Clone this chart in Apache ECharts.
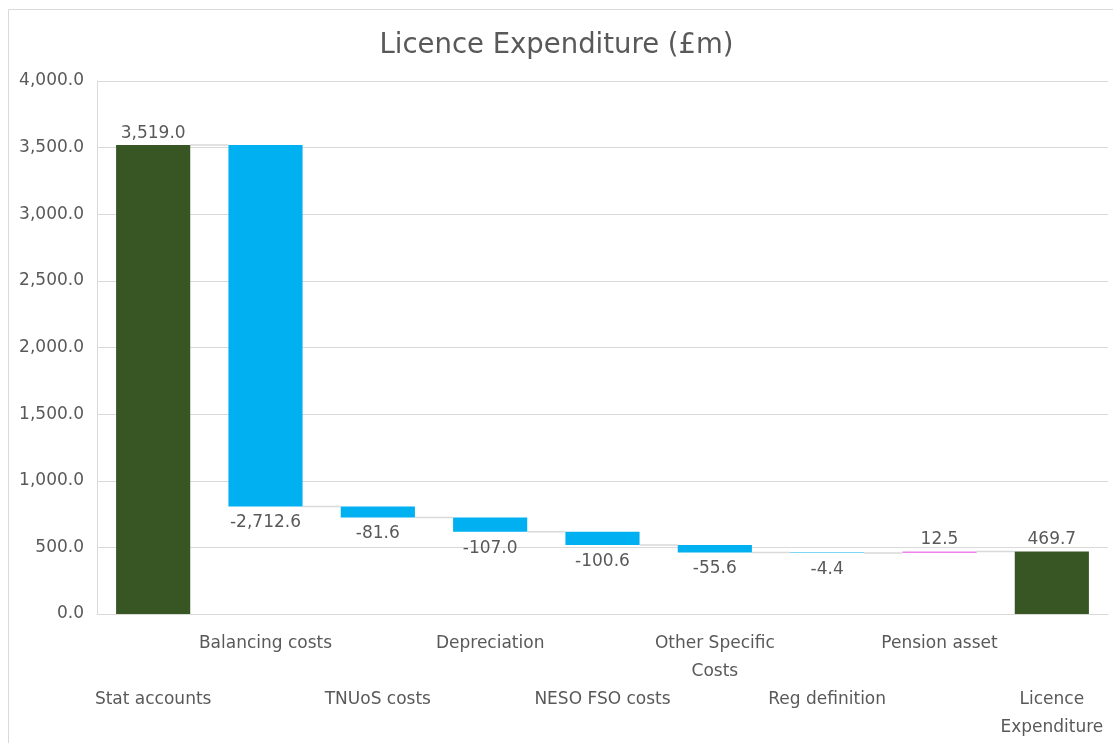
<!DOCTYPE html>
<html><head><meta charset="utf-8">
<script src="https://cdn.jsdelivr.net/npm/echarts@6/dist/echarts.min.js"></script>
<style>html,body{margin:0;padding:0;background:#fff}#c{width:1113px;height:743px}</style>
</head><body><div id="c"></div>
<script>
const categories = ['Stat accounts','Balancing costs','TNUoS costs','Depreciation','NESO FSO costs','Other Specific\nCosts','Reg definition','Pension asset','Licence\nExpenditure'];
const values = [3519.0, -2712.6, -81.6, -107.0, -100.6, -55.6, -4.4, 12.5, 469.7];
const isTotal = [true, false, false, false, false, false, false, false, true];
const yTicks = {min: 0, max: 4000, interval: 500};

const COL_TOTAL = '#375623', COL_NEG = '#00B0F0', COL_POS = '#EE82EE';
const FONT = 'DejaVu Sans';
const TXT = '#595959';

// waterfall derived from the data
const base = [], height = [], level = [];
let run = 0;
values.forEach((v, i) => {
  if (isTotal[i]) { base.push(0); height.push(v); run = v; }
  else if (v < 0) { base.push(run + v); height.push(-v); run = run + v; }
  else { base.push(run); height.push(v); run = run + v; }
  level.push(run);
});
const fmt = v => v.toLocaleString('en-US', {minimumFractionDigits: 1, maximumFractionDigits: 1});

const visData = values.map((v, i) => {
  const below = !isTotal[i] && v < 0;
  return {
    value: height[i],
    itemStyle: {color: isTotal[i] ? COL_TOTAL : (v < 0 ? COL_NEG : COL_POS)},
    label: {position: below ? 'bottom' : 'top', distance: below ? 8 : 3}
  };
});
const connData = level.slice(0, -1).map((l, i) => [i, l]);
const BAR_RATIO = 0.66;

const chart = echarts.init(document.getElementById('c'));
chart.setOption({
  animation: false,
  textStyle: {fontFamily: FONT},
  title: {text: 'Licence Expenditure (£m)', left: 'center', top: 27,
    textStyle: {fontFamily: FONT, fontSize: 27.5, fontWeight: 'normal', color: TXT}},
  graphic: [{type: 'rect', left: 6, top: 7, shape: {width: 1120, height: 760},
    style: {fill: 'none', stroke: '#d9d9d9', lineWidth: 1}, z: -1}],
  grid: {left: 97, right: 5, top: 81, bottom: 129, containLabel: false},
  xAxis: {type: 'category', data: categories,
    axisLine: {show: true, lineStyle: {color: '#d9d9d9', width: 1}},
    axisTick: {show: false},
    axisLabel: {interval: 0, color: TXT, fontSize: 17, lineHeight: 28, margin: 16,
      formatter: (val, idx) => (idx % 2 === 0 ? '\n\n' : '') + val}},
  yAxis: {type: 'value', min: yTicks.min, max: yTicks.max, interval: yTicks.interval,
    axisLine: {show: true, lineStyle: {color: '#d9d9d9'}},
    splitLine: {lineStyle: {color: '#d9d9d9'}},
    axisLabel: {color: TXT, fontSize: 17, margin: 13, formatter: v => fmt(v)}},
  series: [
    {type: 'custom', z: 1, data: connData,
      renderItem: (params, api) => {
        const i = api.value(0), l = api.value(1);
        const p1 = api.coord([i, l]), p2 = api.coord([i + 1, l]);
        const hw = api.size([1, 0])[0] * BAR_RATIO / 2;
        return {type: 'line', shape: {x1: p1[0] + hw, y1: p1[1], x2: p2[0] - hw, y2: p2[1]},
          style: {stroke: '#d9d9d9', lineWidth: 1.5}};
      }},
    {type: 'bar', stack: 'w', z: 2, barWidth: (BAR_RATIO * 100) + '%',
      itemStyle: {color: 'transparent'}, data: base, silent: true},
    {type: 'bar', stack: 'w', z: 2, data: visData,
      label: {show: true, color: TXT, fontSize: 17,
        formatter: p => fmt(values[p.dataIndex])}}
  ]
});
</script></body></html>
